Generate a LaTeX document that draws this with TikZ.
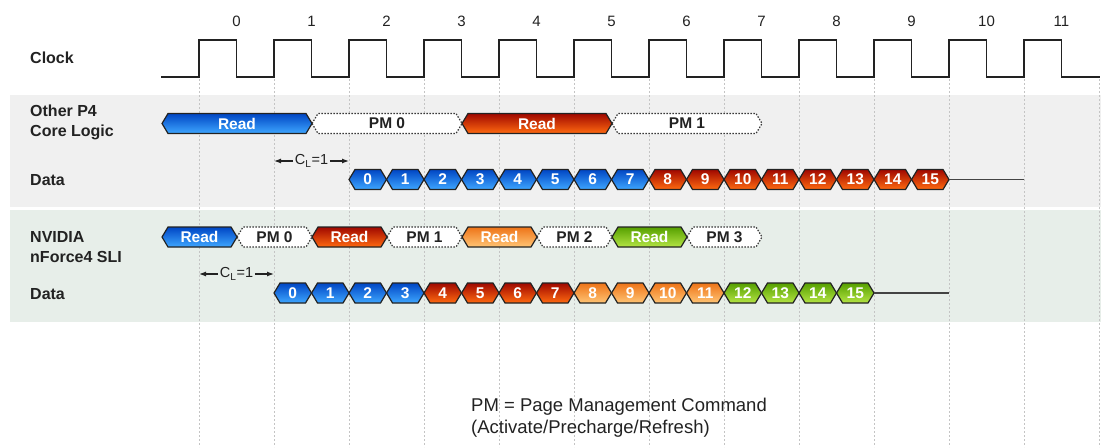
\documentclass[tikz,border=0pt]{standalone}
\usepackage{fontspec}
\setmainfont{Liberation Sans}
\usetikzlibrary{arrows.meta}
\definecolor{bandA}{HTML}{F0F0F0}
\definecolor{bandB}{HTML}{E7EEE9}
\definecolor{gridc}{HTML}{C4C4C4}
\definecolor{inkc}{HTML}{222222}
\definecolor{blueT}{HTML}{0046C4}
\definecolor{blueB}{HTML}{3EA6FF}
\definecolor{redT}{HTML}{A00800}
\definecolor{redB}{HTML}{FF6A10}
\definecolor{orT}{HTML}{EE7418}
\definecolor{orB}{HTML}{FFC474}
\definecolor{grT}{HTML}{56A000}
\definecolor{grB}{HTML}{B4E444}
\newcommand{\blk}[6]{%
  \path[#5] ({#2},{#4}) -- ({#2+6},{#4-10}) -- ({#3-6},{#4-10}) -- ({#3},{#4}) -- ({#3-6},{#4+10}) -- ({#2+6},{#4+10}) -- cycle;
  \node[blktext] (#1) at ({(#2+#3)/2},{#4}) {#6};
  \coordinate (#1-r) at ({#3},{#4});}
\begin{document}
\begin{tikzpicture}[x=1pt,y=-1pt,
  grid/.style={gridc, line width=0.8pt, dash pattern=on 2pt off 2pt},
  clk/.style={inkc, line width=1.6pt, line join=miter},
  clknum/.style={inner sep=0pt, font=\fontsize{15}{18}\selectfont, text=inkc},
  rowlabel/.style={inner sep=0pt, anchor=west, align=left, font=\fontsize{16}{20}\selectfont\bfseries, text=inkc},
  blkbase/.style={draw=inkc, line width=1.2pt, line join=miter},
  blueblk/.style={blkbase, top color=blueT, bottom color=blueB},
  redblk/.style={blkbase, top color=redT, bottom color=redB},
  orblk/.style={blkbase, top color=orT, bottom color=orB},
  grblk/.style={blkbase, top color=grT, bottom color=grB},
  pmblk/.style={draw=inkc!90, fill=white, line width=1.2pt, dash pattern=on 1.5pt off 1.5pt},
  blktext/.style={inner sep=0pt, text=white, font=\fontsize{15.5}{18}\selectfont\bfseries},
  cl/.style={inner sep=1.5pt, font=\fontsize{14.5}{16}\selectfont, text=inkc},
  clarrow/.style={inkc, line width=1.2pt, -{Latex[length=7pt,width=5pt]}},
  dataline/.style={inkc!85, line width=1.8pt},
  note/.style={inner sep=0pt, anchor=west, align=left, font=\fontsize{18.5}{21.5}\selectfont, text=inkc}]
\useasboundingbox (0,0) rectangle (1108,447);
\fill[white] (0,0) rectangle (1108,447);
\fill[bandA] (10,95) rectangle (1101,207);
\fill[bandB] (10,210) rectangle (1101,322);
\foreach \k in {0,...,12} \draw[grid] ({199+75*\k},79) -- ({199+75*\k},447);
% clock
\draw[clk] (161,77) foreach \k in {0,...,11} { -- ({199+75*\k},77) -- ({199+75*\k},40) -- ({236.5+75*\k},40) -- ({236.5+75*\k},77) } -- (1100,77);
\foreach \k in {0,...,11} \node[clknum] (c\k) at ({236.5+75*\k},21) {\k};
% labels
\node[rowlabel] (lclk) at (30,58) {Clock};
\node[rowlabel] (lp4) at (30,122) {Other P4\\Core Logic};
\node[rowlabel] (ld1) at (30,180) {Data};
\node[rowlabel] (lnv) at (30,247) {NVIDIA\\nForce4 SLI};
\node[rowlabel] (ld2) at (30,294) {Data};
% row 1 commands
\blk{ra}{162}{312}{123.5}{blueblk}{Read}
\blk{rb}{312}{462}{123.5}{pmblk}{\textcolor{inkc}{PM 0}}
\blk{rc}{462}{612}{123.5}{redblk}{Read}
\blk{rd}{612}{762}{123.5}{pmblk}{\textcolor{inkc}{PM 1}}
% CL row 1
\node[cl] (cla) at (311.5,161) {C\textsubscript{L}=1};
\coordinate (cla1) at (274,161);
\coordinate (cla2) at (349,161);
\draw[clarrow] (cla.west) -- (cla1);
\draw[clarrow] (cla.east) -- (cla2);
% data row 1
\foreach \i in {0,...,15} {%
  \pgfmathsetmacro\xl{349+37.5*\i}
  \pgfmathsetmacro\xr{\xl+37.5}
  \ifnum\i<8 \def\st{blueblk}\else\def\st{redblk}\fi
  \blk{da\i}{\xl}{\xr}{179.5}{\st}{\i}
}
\coordinate (ea) at (1024,179.5);
\draw[dataline] (da15-r) -- (ea);
% row 2 commands
\blk{na}{162}{237}{237}{blueblk}{Read}
\blk{nb}{237}{312}{237}{pmblk}{\textcolor{inkc}{PM 0}}
\blk{nc}{312}{387}{237}{redblk}{Read}
\blk{nd}{387}{462}{237}{pmblk}{\textcolor{inkc}{PM 1}}
\blk{ne}{462}{537}{237}{orblk}{Read}
\blk{nf}{537}{612}{237}{pmblk}{\textcolor{inkc}{PM 2}}
\blk{ng}{612}{687}{237}{grblk}{Read}
\blk{nh}{687}{762}{237}{pmblk}{\textcolor{inkc}{PM 3}}
% CL row 2
\node[cl] (clb) at (236.5,274) {C\textsubscript{L}=1};
\coordinate (clb1) at (199,274);
\coordinate (clb2) at (274,274);
\draw[clarrow] (clb.west) -- (clb1);
\draw[clarrow] (clb.east) -- (clb2);
% data row 2
\foreach \i in {0,...,15} {%
  \pgfmathsetmacro\xl{274+37.5*\i}
  \pgfmathsetmacro\xr{\xl+37.5}
  \ifnum\i<4 \def\st{blueblk}\else\ifnum\i<8 \def\st{redblk}\else\ifnum\i<12 \def\st{orblk}\else\def\st{grblk}\fi\fi\fi
  \blk{db\i}{\xl}{\xr}{293}{\st}{\i}
}
\coordinate (eb) at (949,293);
\draw[dataline] (db15-r) -- (eb);
% note
\node[note] (nt) at (471,417.5) {PM = Page Management Command\\(Activate/Precharge/Refresh)};
\end{tikzpicture}
\end{document}
